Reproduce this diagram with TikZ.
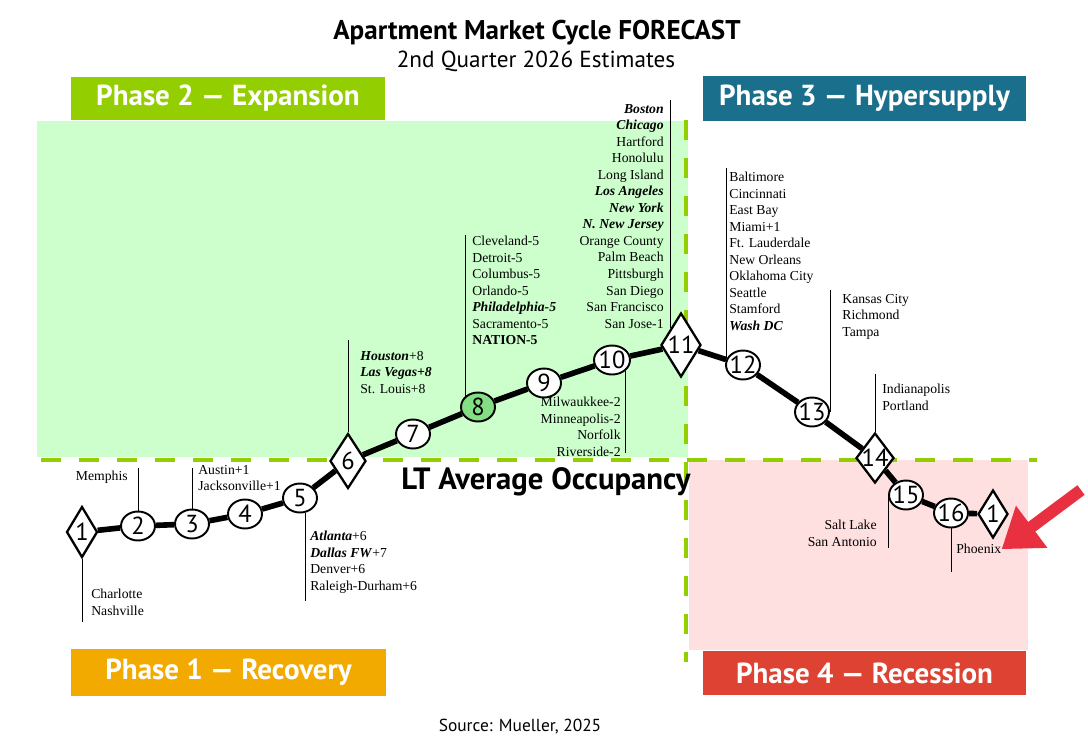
\documentclass[tikz,border=0pt]{standalone}
\usepackage{fontspec}
\setmainfont{Liberation Serif}
\setsansfont{PT Sans}
\usetikzlibrary{shapes.geometric,arrows.meta,positioning}

\definecolor{expgreen}{RGB}{146,206,0}
\definecolor{hypblue}{RGB}{26,111,140}
\definecolor{recorange}{RGB}{242,170,0}
\definecolor{recred}{RGB}{221,66,50}
\definecolor{palegreen}{RGB}{204,255,204}
\definecolor{palepink}{RGB}{255,224,224}
\definecolor{peakgreen}{RGB}{132,222,132}
\definecolor{arrowred}{RGB}{232,48,64}

\newcommand{\stg}[1]{\makebox[0pt]{#1}}
\newcommand{\hotcity}[1]{\textbf{\textit{#1}}}

\begin{document}
\begin{tikzpicture}[x=0.02cm,y=-0.02cm,
	stage/.style={ellipse,draw,line width=1.1pt,fill=white,inner sep=0pt,minimum width=0.68cm,minimum height=0.58cm,font=\sffamily\fontsize{14}{14}\selectfont},
	turn/.style={diamond,draw,line width=1.3pt,fill=white,inner sep=0pt,minimum width=0.64cm,minimum height=1.02cm,font=\sffamily\fontsize{14}{14}\selectfont},
	phase/.style={text=white,inner sep=0pt,font=\sffamily\bfseries\fontsize{16.5}{17}\selectfont},
	city/.style={inner sep=0pt,font=\fontsize{7.8}{9.4}\selectfont},
	lead/.style={line width=0.5pt},
	cycleline/.style={line width=3.2pt},
	border/.style={expgreen,line width=2.8pt,dash pattern=on 0.4cm off 0.36cm},
	pointer/.style={arrowred,line width=0.24cm,-{Triangle[length=0.75cm,width=1.0cm]}}]
	\useasboundingbox (0,0) rectangle (1088,745);

	% zones
	\fill[palegreen] (37,121) rectangle (688,457);
	\fill[palepink] (689,460) rectangle (1028,650);
	\draw[border] (41,460) -- (1037,460);
	\draw[border] (686,120) -- (686,662);

	% headings
	\node[font=\sffamily\bfseries\fontsize{15.4}{16}\selectfont] (title) at (537,33) {Apartment Market Cycle FORECAST};
	\node[font=\sffamily\fontsize{13.2}{14}\selectfont] (sub) at (536,61) {2nd Quarter 2026 Estimates};
	\node[phase,fill=expgreen,minimum width=6.28cm,minimum height=0.86cm] (ph2) at (228,98.5) {Phase 2 — Expansion};
	\node[phase,fill=hypblue,minimum width=6.46cm,minimum height=0.9cm] (ph3) at (864.5,98.5) {Phase 3 — Hypersupply};
	\node[phase,fill=recorange,minimum width=6.3cm,minimum height=0.94cm] (ph1) at (228.5,672.5) {Phase 1 — Recovery};
	\node[phase,fill=recred,minimum width=6.46cm,minimum height=0.88cm] (ph4) at (864.5,673) {Phase 4 — Recession};
	\node[font=\sffamily\bfseries\fontsize{17.5}{18}\selectfont] (avg) at (546,482) {LT Average Occupancy};
	\node[font=\sffamily\fontsize{9.9}{11}\selectfont] (src) at (520,727) {Source: Mueller, 2025};

	% markets
	\node[city,anchor=north west,align=left] (c1) at (91,589) {Charlotte\\Nashville};
	\node[city,anchor=north east,align=right] (c2) at (128,471) {Memphis};
	\node[city,anchor=north west,align=left] (c3) at (198,465) {Austin+1\\Jacksonville+1};
	\node[city,anchor=north west,align=left] (c5) at (310,531) {\hotcity{Atlanta}+6\\\hotcity{Dallas FW}+7\\Denver+6\\Raleigh-Durham+6};
	\node[city,anchor=north west,align=left] (c6) at (360,351) {\hotcity{Houston}+8\\\hotcity{Las Vegas+8}\\St. Louis+8};
	\node[city,anchor=north west,align=left] (c8) at (472,236) {Cleveland-5\\Detroit-5\\Columbus-5\\Orlando-5\\\hotcity{Philadelphia-5}\\Sacramento-5\\\textbf{NATION-5}};
	\node[city,anchor=north east,align=right] (c10) at (621,397) {Milwaukkee-2\\Minneapolis-2\\Norfolk\\Riverside-2};
	\node[city,anchor=north east,align=right] (c11) at (664,104) {\hotcity{Boston}\\\hotcity{Chicago}\\Hartford\\Honolulu\\Long Island\\\hotcity{Los Angeles}\\\hotcity{New York}\\\hotcity{N. New Jersey}\\Orange County\\Palm Beach\\Pittsburgh\\San Diego\\San Francisco\\San Jose-1};
	\node[city,anchor=north west,align=left] (c12) at (729,172) {Baltimore\\Cincinnati\\East Bay\\Miami+1\\Ft. Lauderdale\\New Orleans\\Oklahoma City\\Seattle\\Stamford\\\hotcity{Wash DC}};
	\node[city,anchor=north west,align=left] (c13) at (842,294) {Kansas City\\Richmond\\Tampa};
	\node[city,anchor=north west,align=left] (c14) at (882,384) {Indianapolis\\Portland};
	\node[city,anchor=north east,align=right] (c15) at (877,520) {Salt Lake\\San Antonio};
	\node[city,anchor=north west] (phx) at (956,544) {Phoenix};

	% cycle points
	\node[turn,minimum width=0.62cm] (s1) at (82,532) {\stg{1}};
	\node[stage] (s2) at (138,526) {\stg{2}};
	\node[stage] (s3) at (192,524) {\stg{3}};
	\node[stage] (s4) at (245,514) {\stg{4}};
	\node[stage] (s5) at (300,498) {\stg{5}};
	\node[turn,minimum width=0.72cm,minimum height=1.1cm] (s6) at (348,461) {\stg{6}};
	\node[stage] (s7) at (413,434) {\stg{7}};
	\node[stage,fill=peakgreen] (s8) at (478,407) {\stg{8}};
	\node[stage] (s9) at (544,383) {\stg{9}};
	\node[stage,minimum width=0.72cm] (s10) at (612,360) {\stg{10}};
	\node[turn,minimum width=0.8cm,minimum height=1.28cm] (s11) at (681,345) {\stg{11}};
	\node[stage] (s12) at (743,365) {\stg{12}};
	\node[stage] (s13) at (812,412) {\stg{13}};
	\node[turn,minimum width=0.76cm,minimum height=1.0cm] (s14) at (875,458) {\stg{14}};
	\node[stage] (s15) at (906,495) {\stg{15}};
	\node[stage] (s16) at (951,513) {\stg{16}};
	\node[turn,minimum width=0.6cm,minimum height=0.96cm] (back1) at (993,514) {\stg{1}};

	\draw[cycleline] (s1) -- (s2) -- (s3) -- (s4) -- (s5) -- (s6) -- (s7) -- (s8) -- (s9) -- (s10) -- (s11) -- (s12) -- (s13) -- (s14) -- (s15) -- (s16) -- (back1);

	% leader lines
	\coordinate (p1) at (83,622);
	\coordinate (p2) at (138,468);
	\coordinate (p3) at (192,468);
	\coordinate (p5) at (305,601);
	\coordinate (p6) at (350,340);
	\coordinate (p8) at (466,235);
	\coordinate (p10) at (628,453);
	\coordinate (p11) at (672,100);
	\coordinate (p12) at (724,168);
	\coordinate (p13) at (830,290);
	\coordinate (p14) at (876,374);
	\coordinate (p15) at (889,548);
	\coordinate (p16) at (951,572);
	\draw[lead] (s1.south) -- (s1.south |- p1);
	\draw[lead] (s2.north) -- (s2.north |- p2);
	\draw[lead] (s3.north) -- (s3.north |- p3);
	\draw[lead] (s5.-70) -- (s5.-70 |- p5);
	\draw[lead] (s6.north) -- (s6.north |- p6);
	\draw[lead] (s8.north west) -- (s8.north west |- p8);
	\draw[lead] (s10.south east) -- (s10.south east |- p10);
	\draw[lead] (s11.north west) -- (s11.north west |- p11);
	\draw[lead] (s12.160) -- (s12.160 |- p12);
	\draw[lead] (s13.east) -- (s13.east |- p13);
	\draw[lead] (s14.north) -- (s14.north |- p14);
	\draw[lead] (s15.west) -- (s15.west |- p15);
	\draw[lead] (s16.south) -- (s16.south |- p16);

	% pointer to current market
	\coordinate (arw) at (1081,490);
	\draw[pointer] (arw) -- (phx.east);
\end{tikzpicture}
\end{document}
